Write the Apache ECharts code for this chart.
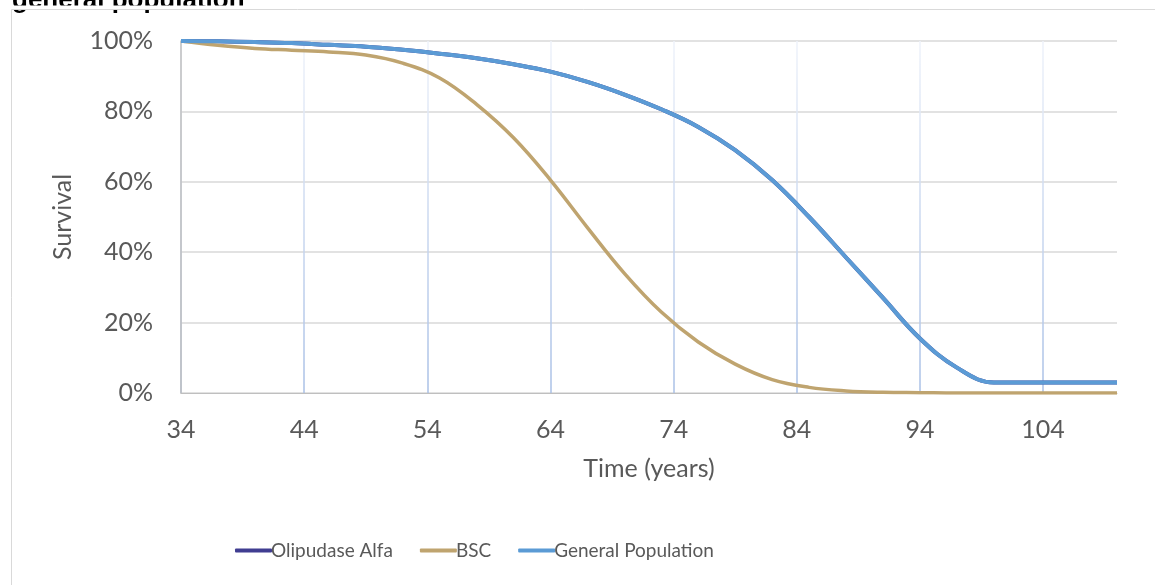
<!DOCTYPE html>
<html>
<head>
<meta charset="utf-8">
<script src="https://cdn.jsdelivr.net/npm/echarts@6/dist/echarts.min.js"></script>
<style>
  html, body { margin: 0; padding: 0; background: #fff; }
  #chart { width: 1155px; height: 585px; }
</style>
</head>
<body>
<div id="chart"></div>
<script>
// Age categories on the time axis (years), 34 through 110
const ageCategories = [];
for (let a = 34; a <= 110; a++) ageCategories.push(String(a));

// Ages at which survival was read (years)
const sampleAges = [34, 37, 40, 43, 46, 49, 52, 55, 58, 61, 64, 67, 70, 73, 76, 79, 82, 85, 88, 91, 94, 97, 100, 103, 106, 110];

// General population survival (%)
const genPopSurv = [100, 99.9, 99.7, 99.4, 98.9, 98.4, 97.5, 96.4, 95.1, 93.4, 91.3, 88.4, 84.8, 80.6, 75.6, 69.0, 60.5, 50.0, 38.5, 27.0, 15.5, 7.2, 3, 3, 3, 3];

// Olipudase alfa survival (%) - follows the general population curve
const olipudaseSurv = [100, 99.9, 99.7, 99.4, 98.9, 98.4, 97.5, 96.4, 95.1, 93.4, 91.3, 88.4, 84.8, 80.6, 75.6, 69.0, 60.5, 50.0, 38.5, 27.0, 15.5, 7.2, 3, 3, 3, 3];

// Best supportive care survival (%)
const bscSurv = [100, 98.8, 97.9, 97.4, 96.9, 96, 93.7, 89.5, 82, 72.5, 60.5, 47, 34, 23, 14.5, 8.2, 3.8, 1.6, 0.6, 0.2, 0.1, 0, 0, 0, 0, 0];

const seriesNames = ['Olipudase Alfa', 'BSC', 'General Population'];
const seriesColors = ['#403d91', '#bfa46f', '#5b9bd5'];

const pairs = (xs, ys) => xs.map((x, i) => [String(x), ys[i]]);
const everyTen = (i) => i % 10 === 0;

const chart = echarts.init(document.getElementById('chart'), null, { renderer: 'canvas' });

const gridTop = 41, gridBottomY = 393;
const labelFont = { fontFamily: 'Lato', fontSize: 25, color: '#595959' };

chart.setOption({
  animation: false,
  backgroundColor: '#ffffff',
  textStyle: { fontFamily: 'Lato' },
  grid: { left: 181, right: 38, top: gridTop, bottom: 585 - gridBottomY, containLabel: false },
  graphic: [
    {
      type: 'text', left: 12, top: -12, z: 1,
      style: { text: 'general population', font: 'bold 26px "Liberation Sans"', fill: '#000000' }
    },
    {
      type: 'rect', z: 2, silent: true,
      shape: { x: 0, y: 5.5, width: 1155, height: 4 },
      style: { fill: '#ffffff' }
    },
    {
      type: 'rect', z: 3, silent: true,
      shape: { x: 11.5, y: 9.5, width: 1300, height: 700 },
      style: { fill: 'none', stroke: '#d9d9d9', lineWidth: 1 }
    }
  ],
  legend: {
    data: seriesNames,
    left: 230,
    top: 536,
    icon: 'roundRect',
    itemWidth: 37,
    itemHeight: 4,
    itemGap: 27,
    textStyle: { fontFamily: 'Lato', fontSize: 19, color: '#595959', padding: [0, 0, 0, -6] }
  },
  xAxis: {
    type: 'category',
    data: ageCategories,
    boundaryGap: false,
    name: 'Time (years)',
    nameLocation: 'middle',
    nameGap: 63,
    nameTextStyle: labelFont,
    axisLine: { show: true, lineStyle: { color: '#bfbfbf', width: 1 } },
    axisTick: { show: false },
    axisLabel: Object.assign({ interval: everyTen, margin: 24 }, labelFont),
    splitLine: {
      show: true,
      interval: everyTen,
      lineStyle: {
        width: 1.5,
        color: new echarts.graphic.LinearGradient(0, gridTop, 0, gridBottomY, [
          { offset: 0, color: '#eef2fa' },
          { offset: 1, color: '#a9c0e6' }
        ], true)
      }
    }
  },
  yAxis: {
    type: 'value',
    min: 0,
    max: 100,
    interval: 20,
    name: 'Survival',
    nameLocation: 'middle',
    nameGap: 106,
    nameTextStyle: labelFont,
    axisLine: { show: true, lineStyle: { color: '#bfbfbf', width: 1.5 } },
    axisTick: { show: false },
    axisLabel: Object.assign({ formatter: '{value}%', margin: 28 }, labelFont),
    splitLine: { show: true, lineStyle: { color: '#d9d9d9', width: 1.5 } }
  },
  series: [
    {
      name: seriesNames[0], type: 'line', data: pairs(sampleAges, olipudaseSurv),
      showSymbol: false, smooth: 0.4, color: seriesColors[0],
      lineStyle: { width: 4, color: seriesColors[0] }, z: 2
    },
    {
      name: seriesNames[1], type: 'line', data: pairs(sampleAges, bscSurv),
      showSymbol: false, smooth: 0.4, color: seriesColors[1],
      lineStyle: { width: 3.5, color: seriesColors[1] }, z: 3
    },
    {
      name: seriesNames[2], type: 'line', data: pairs(sampleAges, genPopSurv),
      showSymbol: false, smooth: 0.4, color: seriesColors[2],
      lineStyle: { width: 4, color: seriesColors[2] }, z: 4
    }
  ]
});
</script>
</body>
</html>
